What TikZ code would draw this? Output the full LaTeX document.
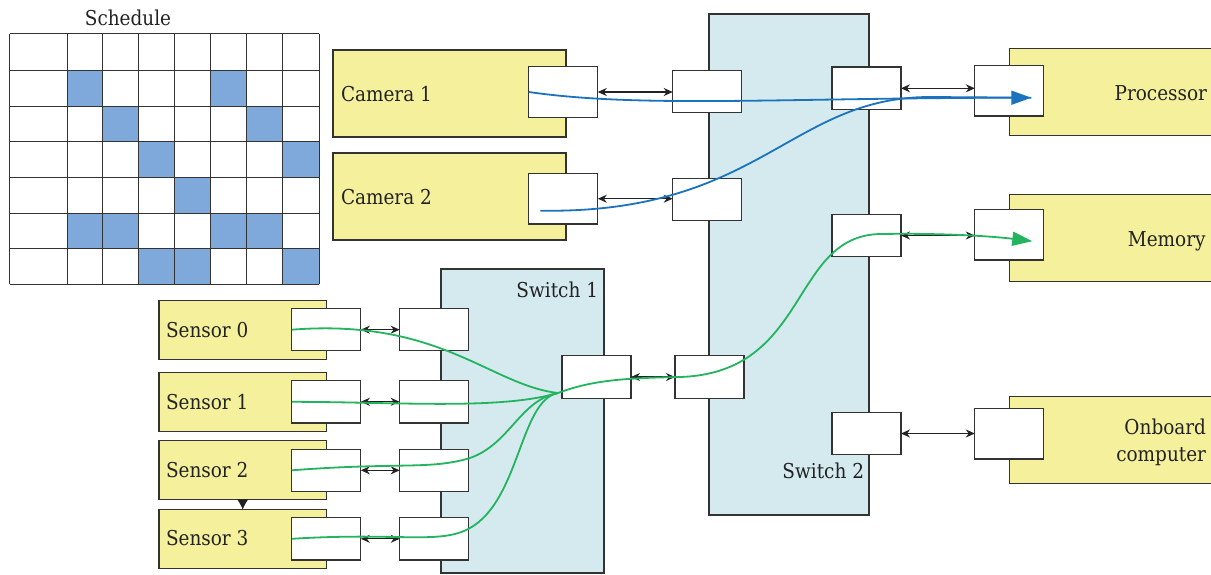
\documentclass[tikz,border=0pt]{standalone}
\usepackage{fontspec}
\setmainfont{DejaVu Serif Condensed}
\usetikzlibrary{arrows.meta,calc}
\definecolor{yel}{HTML}{F4F09B}
\definecolor{swfill}{HTML}{D4EAEE}
\definecolor{cellblue}{HTML}{7FA9DB}
\definecolor{bline}{HTML}{1A73BC}
\definecolor{gline}{HTML}{24B35E}
\definecolor{edge}{HTML}{333333}
\definecolor{ink}{HTML}{222222}
\begin{document}
\begin{tikzpicture}[x=1pt,y=-1pt,
  every node/.style={inner sep=0pt,outer sep=0pt},
  lbl/.style={font=\fontsize{20.5}{28}\selectfont,text=ink},
  yelbox/.style={draw=edge,fill=yel,line width=1.2pt},
  swbox/.style={draw=edge,fill=swfill,line width=1.2pt},
  portbox/.style={draw=edge,fill=white,line width=1.2pt,minimum width=69pt},
  link/.style={draw=ink,line width=1.1pt,{Stealth[length=9pt,width=8pt]}-{Stealth[length=9pt,width=8pt]}},
  bluepath/.style={draw=bline,line width=1.8pt},
  greenpath/.style={draw=gline,line width=1.8pt},
  gridline/.style={draw=edge,line width=1pt}
]
\useasboundingbox (0,0) rectangle (1211,574);
\clip (0,0) rectangle (1211,574);

% ---------- Schedule grid ----------
\def\colx{{9.5,67.3,102.7,138.3,174.3,210,246.7,282.7,319}}
\def\rowy{{33.5,70,106,141.7,177.3,213.3,248.3,284}}
\foreach \c/\r in {1/1,5/1,2/2,6/2,3/3,7/3,4/4,1/5,2/5,5/5,6/5,3/6,4/6,7/6}{
  \pgfmathsetmacro\xa{\colx[\c]}
  \pgfmathsetmacro\xb{\colx[\c+1]}
  \pgfmathsetmacro\ya{\rowy[\r]}
  \pgfmathsetmacro\yb{\rowy[\r+1]}
  \fill[cellblue] (\xa,\ya) rectangle (\xb,\yb);
}
\foreach \i in {0,...,8}{
  \pgfmathsetmacro\xx{\colx[\i]}
  \draw[gridline] (\xx,33.5) -- (\xx,284);
}
\foreach \j in {0,...,7}{
  \pgfmathsetmacro\yy{\rowy[\j]}
  \draw[gridline] (9.5,\yy) -- (319,\yy);
}
\node[lbl,anchor=base] (schedlbl) at (128,25) {Schedule};

% ---------- Switches ----------
\node[swbox,minimum width=160pt,minimum height=501pt] (sw2) at (789,264.5) {};
\node[swbox,minimum width=163pt,minimum height=304pt] (sw1) at (522.5,421) {};
\node[lbl,anchor=base east] (sw1lbl) at (598,297.5) {Switch 1};
\node[lbl,anchor=base east] (sw2lbl) at (864,478.5) {Switch 2};

% ---------- Cameras ----------
\node[yelbox,minimum width=233pt,minimum height=87pt] (cam1) at (449.5,93.5) {};
\node[yelbox,minimum width=233pt,minimum height=87pt] (cam2) at (449.5,196.5) {};
\node[lbl,anchor=base west] (cam1lbl) at (341,101.5) {Camera 1};
\node[lbl,anchor=base west] (cam2lbl) at (341,204.5) {Camera 2};
\node[portbox,minimum height=50.5pt] (c1p) at (563.3,92) {};
\node[portbox,minimum height=50.5pt] (c2p) at (563.3,198.7) {};

% ---------- Devices ----------
\node[yelbox,minimum width=231pt,minimum height=87.4pt] (proc) at (1124.8,92) {};
\node[yelbox,minimum width=231pt,minimum height=87.4pt] (mem) at (1124.8,238) {};
\node[yelbox,minimum width=231pt,minimum height=87.4pt] (obc) at (1124.8,440) {};
\node[lbl,anchor=base east] (proclbl) at (1207,100) {Processor};
\node[lbl,anchor=base east] (memlbl) at (1205.5,246.5) {Memory};
\node[lbl,anchor=base east] (obclbl1) at (1206,434.3) {Onboard};
\node[lbl,anchor=base east] (obclbl2) at (1206,461.7) {computer};
\node[portbox,minimum height=50.7pt] (prp) at (1009.3,90.7) {};
\node[portbox,minimum height=50.7pt] (mep) at (1009.3,234.7) {};
\node[portbox,minimum height=50.7pt] (obp) at (1009.3,433.7) {};

% ---------- Sensors ----------
\foreach \k/\yc/\yb in {0/329.7/337.7,1/401.8/409,2/470.3/477.7,3/538.8/545.7}{
  \node[yelbox,minimum width=167.3pt,minimum height=59pt] (s\k) at (242.7,\yc) {};
  \node[lbl,anchor=base west] (s\k lbl) at (166,\yb) {Sensor \k};
  \node[portbox,minimum height=42.3pt] (s\k p) at (326.3,\yc) {};
  \node[portbox,minimum height=42.3pt] (w\k p) at (434.2,\yc) {};
}
\draw[-{Latex[length=10pt,width=11pt]},draw=ink,line width=0.1pt,fill=ink] (s2.south) -- (s3.north);

% ---------- Switch ports ----------
\node[portbox,minimum height=42.5pt] (sw1r) at (596.5,377) {};
\node[portbox,minimum height=42.5pt] (sw2a) at (707.2,91.5) {};
\node[portbox,minimum height=42.5pt] (sw2b) at (707.2,199.5) {};
\node[portbox,minimum height=42.5pt] (sw2c) at (709.5,377) {};
\node[portbox,minimum height=42.5pt] (sw2r1) at (866.5,88.3) {};
\node[portbox,minimum height=42.5pt] (sw2r2) at (866.5,235.5) {};
\node[portbox,minimum height=42.5pt] (sw2r3) at (866.5,433.5) {};

% ---------- Physical links ----------
\draw[link] (c1p.east) -- (c1p.east -| sw2a.west);
\draw[link] (c2p.east) -- (c2p.east -| sw2b.west);
\draw[link] (sw2r1.east) -- (sw2r1.east -| prp.west);
\draw[link] (sw2r2.east) -- (sw2r2.east -| mep.west);
\draw[link] (sw2r3.east) -- (sw2r3.east -| obp.west);
\draw[link] (sw1r.east) -- (sw2c.west);
\foreach \k in {0,1,2,3}{
  \draw[link] (s\k p.east) -- (w\k p.west);
}

% ---------- Blue flows ----------
\coordinate (bend) at ($(prp.center)+(22,7)$);
\path[bluepath] ($(c2p.west)+(11.5,12)$) .. controls (760,214) and (790,97) .. (930,97) -- (bend);
\path[bluepath,-{Triangle[length=20pt,width=14pt]}] (c1p.west) .. controls (640,108) and (780,98) .. (bend);

% ---------- Green flows ----------
\coordinate (hub) at (558,393);
\coordinate (gend) at ($(mep.center)+(23,6.5)$);
\path[greenpath] (s0p.west) .. controls (440,318) and (490,385) .. (hub);
\path[greenpath] (s1p.west) .. controls (400,402) and (500,410) .. (hub);
\path[greenpath] (s2p.west) .. controls (400,462) and (430,470) .. (470,458) .. controls (510,444) and (520,400) .. (hub);
\path[greenpath] (s3p.west) .. controls (400,532) and (440,545) .. (470,528) .. controls (520,500) and (520,400) .. (hub);
\path[greenpath,-{Triangle[length=20pt,width=14pt]}] (hub) .. controls (590,381) and (620,378) .. (680,377) .. controls (810,373) and (790,236) .. (880,234) .. controls (940,233) and (990,236) .. (gend);
\end{tikzpicture}
\end{document}
